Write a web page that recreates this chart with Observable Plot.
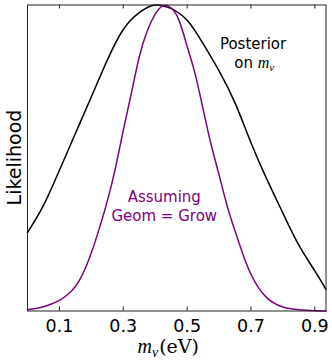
<!DOCTYPE html>
<html>
<head>
<meta charset="utf-8">
<script src="https://cdn.jsdelivr.net/npm/d3@7"></script>
<script src="https://cdn.jsdelivr.net/npm/@observablehq/plot@0.6"></script>
<style>
  html, body { margin: 0; padding: 0; background: white; }
  svg { display: block; }
</style>
</head>
<body>
<div id="chart"></div>
<script>
// Posterior on m_nu (black)
const massGridPosterior = [0.00, 0.05, 0.10, 0.15, 0.20, 0.25, 0.30, 0.35, 0.40, 0.45, 0.50,
                           0.55, 0.60, 0.65, 0.70, 0.75, 0.80, 0.85, 0.90, 0.935];
const posterior = [0.256, 0.345, 0.46, 0.58, 0.70, 0.82, 0.92, 0.975, 1.0, 0.988, 0.95,
                   0.874, 0.785, 0.68, 0.55, 0.43, 0.32, 0.215, 0.131, 0.07];
// Assuming Geom = Grow (purple)
const massGridGeomGrow = [0.000, 0.025, 0.050, 0.075, 0.100, 0.125, 0.150, 0.175, 0.200, 0.225,
                          0.250, 0.275, 0.300, 0.325, 0.350, 0.375, 0.400, 0.425, 0.450, 0.475,
                          0.500, 0.525, 0.550, 0.575, 0.600, 0.625, 0.650, 0.675, 0.700, 0.725,
                          0.750, 0.775, 0.800, 0.825, 0.850, 0.900, 0.935];
const geomGrow = [0.004, 0.008, 0.014, 0.023, 0.035, 0.053, 0.08, 0.125, 0.19, 0.27,
                  0.359, 0.465, 0.59, 0.71, 0.83, 0.915, 0.97, 0.998, 0.99, 0.949,
                  0.865, 0.775, 0.66, 0.545, 0.445, 0.345, 0.262, 0.185, 0.12, 0.074,
                  0.043, 0.024, 0.013, 0.007, 0.004, 0.001, 0.0];
const xTickValues = [0.1, 0.3, 0.5, 0.7, 0.9];
const xTickLabels = ["0.1", "0.3", "0.5", "0.7", "0.9"];

const blackRows = massGridPosterior.map((m, i) => ({m, v: posterior[i]}));
const purpleRows = massGridGeomGrow.map((m, i) => ({m, v: geomGrow[i]}));

const W = 332, H = 361;
const mL = 27, mR = 6.5, mT = 4.5, mB = 50.5;
const innerH = H - mT - mB;

const plot = Plot.plot({
  width: W, height: H,
  marginLeft: mL, marginRight: mR, marginTop: mT, marginBottom: mB,
  style: {fontFamily: "DejaVu Sans", background: "white", color: "black"},
  x: {domain: [0, 0.935]},
  y: {domain: [0, 1], axis: null},
  marks: [
    Plot.line(blackRows, {x: "m", y: "v", stroke: "black", strokeWidth: 1.5, curve: "natural"}),
    Plot.line(purpleRows, {x: "m", y: "v", stroke: "#800080", strokeWidth: 1.5, curve: "natural"}),
    Plot.frame({stroke: "#222", strokeWidth: 1}),
    Plot.ruleX(xTickValues, {insetTop: innerH - 4, stroke: "#222"}),
    Plot.ruleX(xTickValues, {insetBottom: innerH - 4, stroke: "#222"}),
    Plot.axisX(xTickValues, {
      tickSize: 0, tickPadding: 9, fontSize: 17.5, label: null,
      tickFormat: (d, i) => xTickLabels[i]
    })
  ]
});

document.getElementById("chart").appendChild(plot);

const xs = plot.scale("x"), ys = plot.scale("y");
const svg = d3.select(plot);
const g = svg.append("g");

function mathText(sel, size) {
  sel.append("tspan").attr("font-family", "Liberation Serif").attr("font-style", "italic")
     .attr("font-size", size).text("m");
  sel.append("tspan").attr("font-family", "Liberation Serif").attr("font-style", "italic")
     .attr("font-size", size * 0.7).attr("dy", size * 0.2).text("ν");
}

// Y label
g.append("text")
  .attr("transform", `translate(21,${mT + innerH / 2}) rotate(-90)`)
  .attr("text-anchor", "middle")
  .attr("font-family", "DejaVu Sans").attr("font-size", 19).attr("fill", "black")
  .text("Likelihood");

// X label
const xl = g.append("text")
  .attr("x", xs.apply(0.346)).attr("y", H - 8)
  .attr("text-anchor", "start")
  .attr("fill", "black");
mathText(xl, 20);
xl.append("tspan").attr("font-family", "DejaVu Serif").attr("font-size", 19)
  .attr("dy", -20 * 0.2).attr("dx", 1).text("(eV)");

// Posterior annotation
g.append("text")
  .attr("x", xs.apply(0.708)).attr("y", ys.apply(0.853))
  .attr("text-anchor", "middle")
  .attr("font-family", "DejaVu Sans").attr("font-size", 15).attr("fill", "black")
  .text("Posterior");
const on = g.append("text")
  .attr("x", xs.apply(0.712)).attr("y", ys.apply(0.792))
  .attr("text-anchor", "middle")
  .attr("font-family", "DejaVu Sans").attr("font-size", 15).attr("fill", "black");
on.append("tspan").text("on ");
mathText(on, 16);

// Geom = Grow annotation
g.append("text")
  .attr("x", xs.apply(0.43)).attr("y", ys.apply(0.353))
  .attr("text-anchor", "middle")
  .attr("font-family", "DejaVu Sans").attr("font-size", 15).attr("fill", "#800080")
  .text("Assuming");
g.append("text")
  .attr("x", xs.apply(0.43)).attr("y", ys.apply(0.294))
  .attr("text-anchor", "middle")
  .attr("font-family", "DejaVu Sans").attr("font-size", 15).attr("fill", "#800080")
  .text("Geom = Grow");
</script>
</body>
</html>
